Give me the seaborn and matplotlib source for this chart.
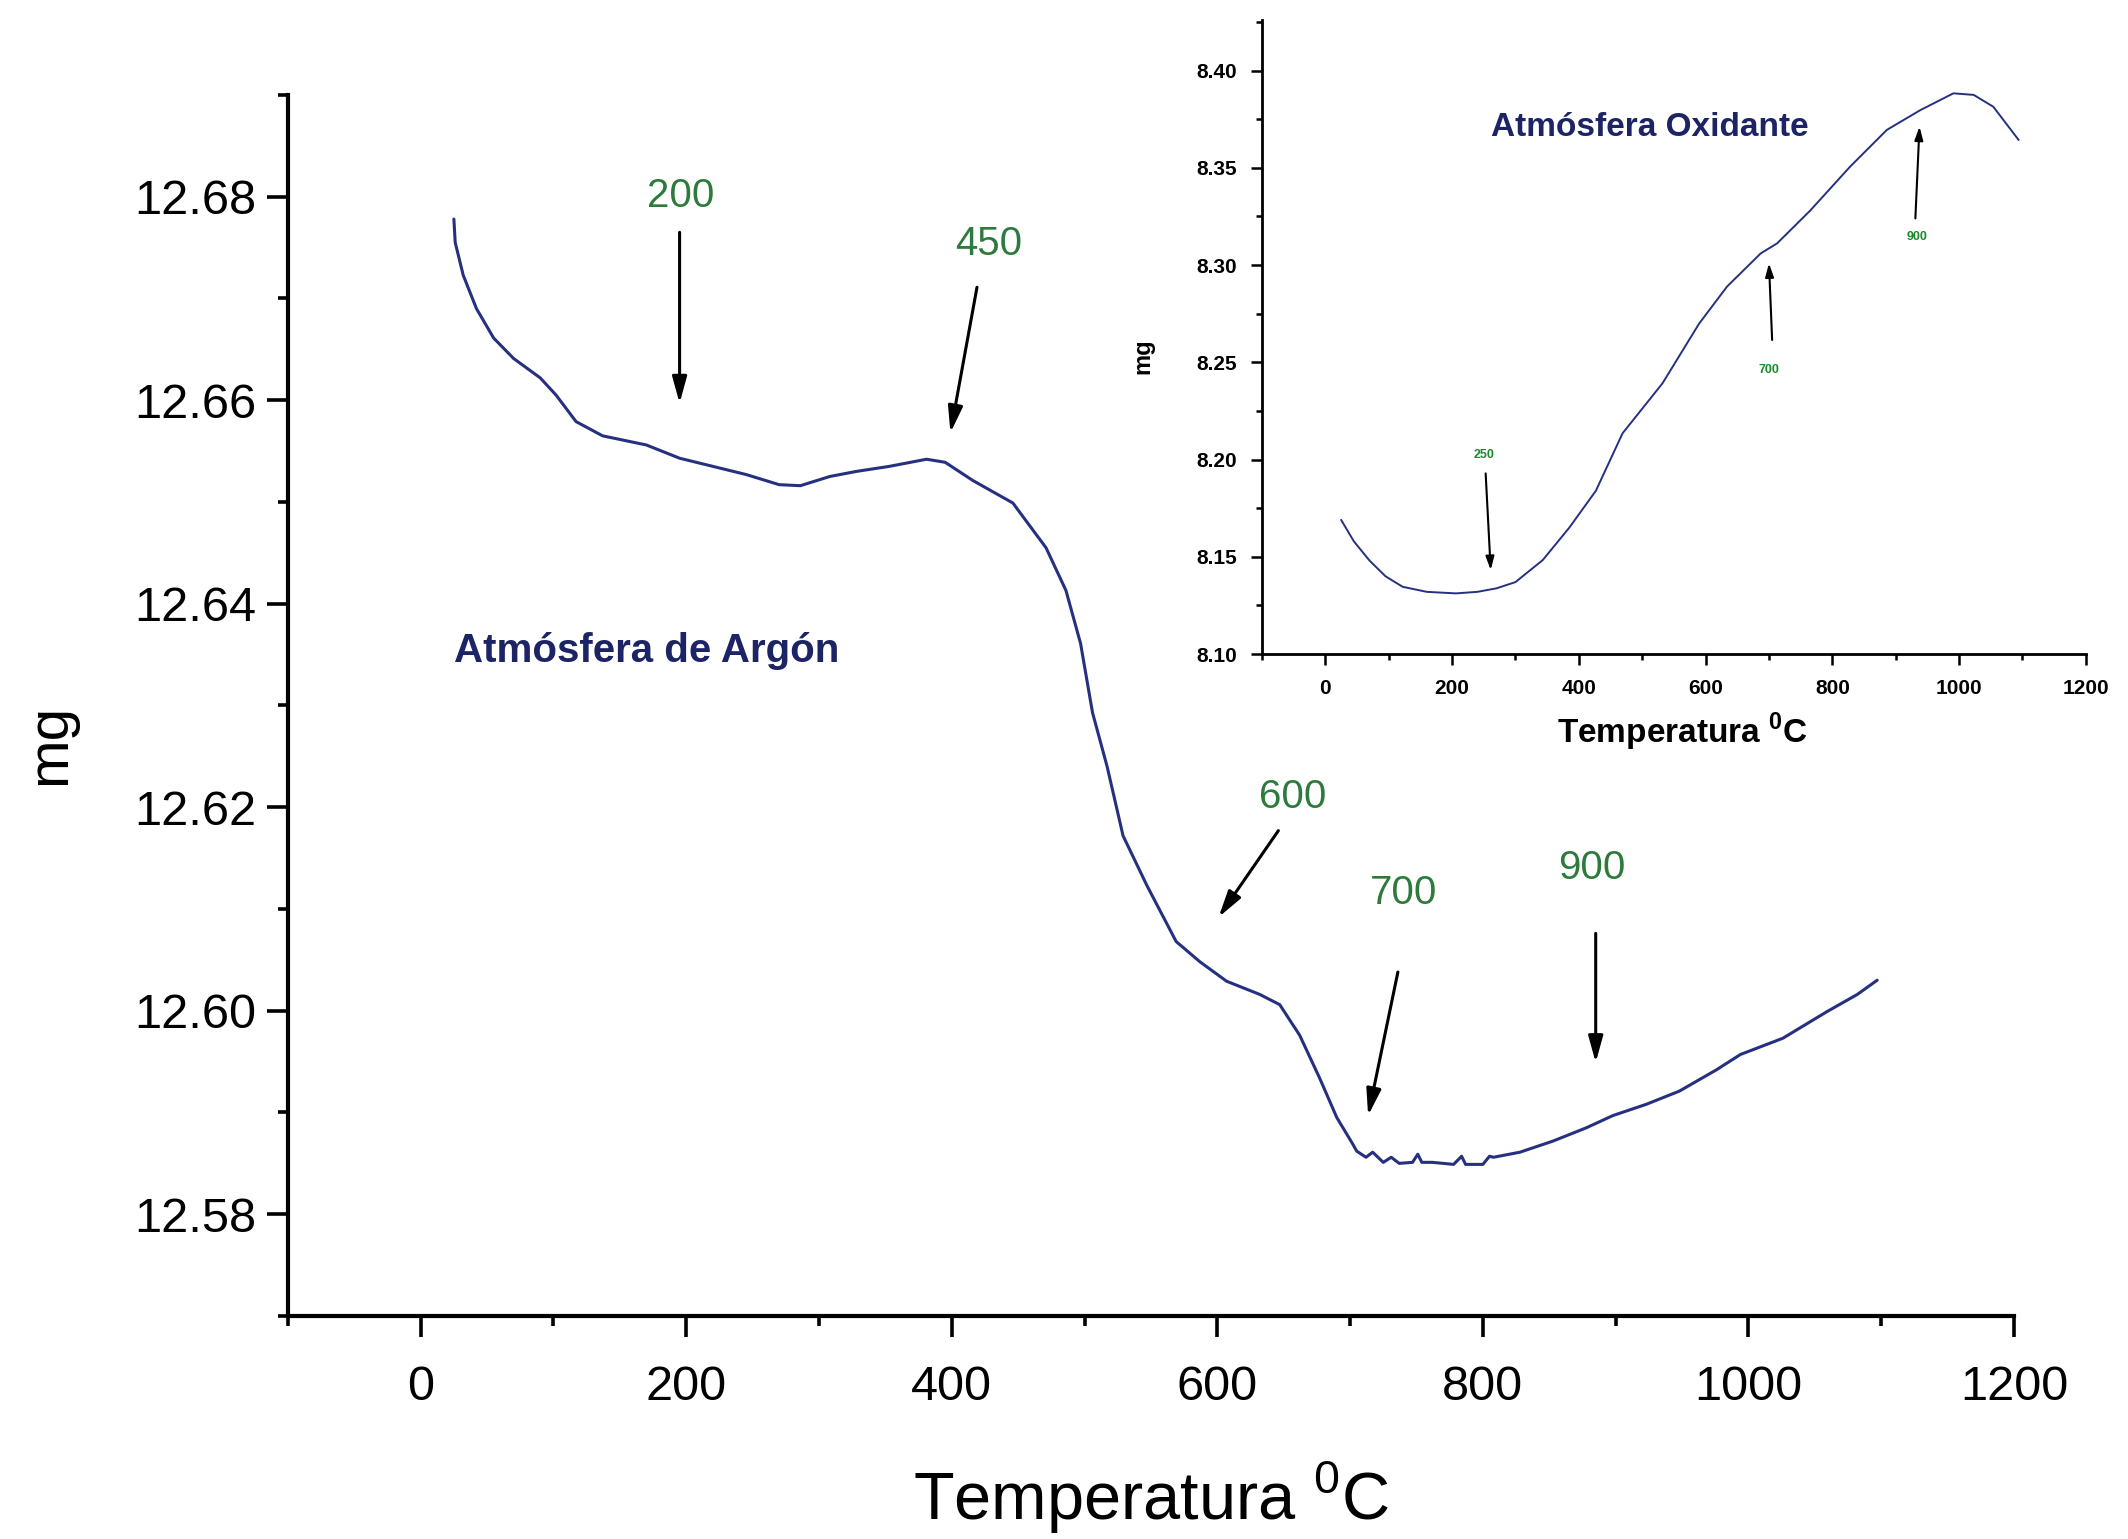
import matplotlib
matplotlib.use("Agg")
import matplotlib.pyplot as plt
import seaborn as sns
from matplotlib.ticker import MultipleLocator, FormatStrFormatter

sns.set_style("ticks")
plt.rcParams['font.family'] = ['Liberation Sans', 'DejaVu Sans']
plt.rcParams['mathtext.fontset'] = 'custom'
plt.rcParams['mathtext.rm'] = 'Liberation Sans'
plt.rcParams['mathtext.bf'] = 'Liberation Sans:bold'
plt.rcParams['text.color'] = 'black'
plt.rcParams['axes.labelcolor'] = 'black'
plt.rcParams['xtick.color'] = 'black'
plt.rcParams['ytick.color'] = 'black'

# ---- datos: atmosfera de argon (curva principal) ----
temp_argon = [25, 26, 32, 42, 55, 70, 90, 102, 117, 137, 170, 195, 220, 245,
              270, 286, 308, 328, 353, 381, 395, 416, 446, 471, 486, 497, 506,
              517, 529, 547, 569, 587, 607, 632, 647, 662, 677, 690, 702, 705,
              712, 717, 725, 731, 737, 747, 751, 754, 762, 778, 784, 787, 800,
              805, 808, 828, 853, 878, 898, 923, 948, 976, 994, 1026, 1059,
              1082, 1097]
mass_argon = [12.6778, 12.6755, 12.6723, 12.6690, 12.6661, 12.6641, 12.6622,
              12.6605, 12.6579, 12.6565, 12.6556, 12.6543, 12.6535, 12.6527,
              12.6517, 12.6516, 12.6525, 12.6530, 12.6535, 12.6542, 12.6539,
              12.6521, 12.6499, 12.6455, 12.6413, 12.6361, 12.6293, 12.6240,
              12.6172, 12.6123, 12.6068, 12.6048, 12.6029, 12.6016, 12.6006,
              12.5976, 12.5934, 12.5895, 12.5869, 12.5862, 12.5856, 12.5861,
              12.5851, 12.5856, 12.5850, 12.5851, 12.5859, 12.5851, 12.5851,
              12.5849, 12.5857, 12.5849, 12.5849, 12.5857, 12.5856, 12.5861,
              12.5872, 12.5885, 12.5897, 12.5908, 12.5921, 12.5942, 12.5957,
              12.5973, 12.5999, 12.6016, 12.6030]

# ---- datos: atmosfera oxidante (recuadro) ----
temp_ox = [25, 45, 70, 95, 122, 160, 206, 240, 270, 300, 343, 385, 427, 469,
           532, 590, 634, 687, 713, 765, 828, 886, 939, 991, 1023, 1054, 1094]
mass_ox = [8.169, 8.158, 8.148, 8.140, 8.1346, 8.132, 8.1312, 8.1320, 8.1338,
           8.137, 8.1483, 8.165, 8.184, 8.2135, 8.2392, 8.270, 8.289, 8.306,
           8.3112, 8.328, 8.3506, 8.3695, 8.3797, 8.3883, 8.3875, 8.3814, 8.3643]

# etiquetas de temperaturas marcadas
argon_marks = ["200", "450", "600", "700", "900"]
ox_marks = ["250", "700", "900"]

line_color = "#263080"
green_main = "#2d7a3c"
green_inset = "#178a2c"
navy = "#1c2466"

fig = plt.figure(figsize=(21.28, 15.39), dpi=100)

# ================================
# grafico principal
# ================================
ax = fig.add_axes([0.1353, 0.1449, 0.8111, 0.7934])
sns.lineplot(x=temp_argon, y=mass_argon, ax=ax, color=line_color, lw=2.2,
             sort=False, estimator=None)
ax.set_xlim(-100, 1200)
ax.set_ylim(12.57, 12.69)
ax.set_xticks(range(0, 1201, 200))
ax.set_yticks([12.58, 12.60, 12.62, 12.64, 12.66, 12.68])
ax.xaxis.set_minor_locator(MultipleLocator(100))
ax.yaxis.set_minor_locator(MultipleLocator(0.01))
ax.yaxis.set_major_formatter(FormatStrFormatter('%.2f'))
ax.tick_params(which='major', length=15, width=2.6, labelsize=35, pad=8,
               colors='black')
ax.tick_params(axis='x', which='major', pad=20)
ax.tick_params(which='minor', length=7, width=2.6)
sns.despine(ax=ax)
for s in ['left', 'bottom']:
    ax.spines[s].set_linewidth(3)
    ax.spines[s].set_color('black')

ax.set_xlabel('Temperatura $^{0}$C', fontsize=48, color='black')
ax.set_ylabel('mg', fontsize=42, color='black')
ax.xaxis.set_label_coords(0.5, -0.117)
ax.yaxis.set_label_coords(-0.122, 0.468)

ax.text(170, 12.6354, 'Atmósfera de Argón', fontsize=29, fontweight='bold',
        color=navy, ha='center', va='center')

text_pos = [(196, 12.6801), (428, 12.6754), (657, 12.6210), (740, 12.6116),
            (882, 12.6140)]
arrow_start = [(195, 12.6765), (419, 12.6711), (646, 12.6177), (736, 12.6038),
               (885, 12.6076)]
arrow_tip = [(195, 12.6597), (399, 12.6568), (601, 12.6092), (713.6, 12.5897),
             (885, 12.5949)]
for lab, tp, a0, a1 in zip(argon_marks, text_pos, arrow_start, arrow_tip):
    ax.text(tp[0], tp[1], lab, fontsize=29, color=green_main,
            ha='center', va='center')
    ax.annotate('', xy=a1, xytext=a0,
                arrowprops=dict(arrowstyle='-|>,head_length=0.8,head_width=0.22',
                                color='black', lw=2.2, mutation_scale=20,
                                shrinkA=0, shrinkB=0))

# ================================
# recuadro: atmosfera oxidante
# ================================
ax2 = fig.add_axes([0.5930, 0.5750, 0.3872, 0.4120])
sns.lineplot(x=temp_ox, y=mass_ox, ax=ax2, color=line_color, lw=1.4,
             sort=False, estimator=None)
ax2.set_xlim(-100, 1200)
ax2.set_ylim(8.10, 8.426)
ax2.set_xticks(range(0, 1201, 200))
ax2.set_yticks([8.10, 8.15, 8.20, 8.25, 8.30, 8.35, 8.40])
ax2.xaxis.set_minor_locator(MultipleLocator(100))
ax2.yaxis.set_minor_locator(MultipleLocator(0.025))
ax2.yaxis.set_major_formatter(FormatStrFormatter('%.2f'))
ax2.tick_params(which='major', length=8, width=1.8, labelsize=15, pad=10)
ax2.tick_params(which='minor', length=4, width=1.8)
for t in ax2.get_xticklabels() + ax2.get_yticklabels():
    t.set_fontweight('bold')
sns.despine(ax=ax2)
for s in ['left', 'bottom']:
    ax2.spines[s].set_linewidth(2)
    ax2.spines[s].set_color('black')

ax2.set_xlabel('Temperatura $^{\\mathbf{0}}$C', fontsize=24, fontweight='bold')
ax2.set_ylabel('mg', fontsize=17, fontweight='bold')
ax2.xaxis.set_label_coords(0.51, -0.09)
ax2.yaxis.set_label_coords(-0.13, 0.47)

ax2.text(512, 8.3707, 'Atmósfera Oxidante', fontsize=24, fontweight='bold',
         color=navy, ha='center', va='center')

ox_text_pos = [(251, 8.2023), (700, 8.246), (934, 8.3146)]
ox_arrow_start = [(253, 8.1929), (705, 8.2615), (931, 8.324)]
ox_arrow_tip = [(261, 8.1432), (700, 8.3009), (937.5, 8.3712)]
for lab, tp, a0, a1 in zip(ox_marks, ox_text_pos, ox_arrow_start, ox_arrow_tip):
    ax2.text(tp[0], tp[1], lab, fontsize=9, fontweight='bold',
             color=green_inset, ha='center', va='center')
    ax2.annotate('', xy=a1, xytext=a0,
                 arrowprops=dict(arrowstyle='-|>,head_length=0.8,head_width=0.25',
                                 color='black', lw=1.5, mutation_scale=10,
                                 shrinkA=0, shrinkB=0))

fig.savefig("out.png", dpi=100)
plt.close(fig)
